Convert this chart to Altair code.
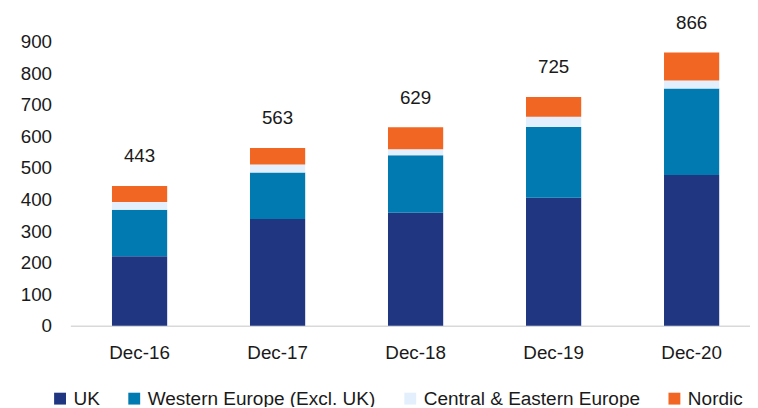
import altair as alt
import pandas as pd

periods = ["Dec-16", "Dec-17", "Dec-18", "Dec-19", "Dec-20"]
regions = ["UK", "Western Europe (Excl. UK)", "Central & Eastern Europe", "Nordic"]
colors = ["#203680", "#007AB0", "#E3EFFC", "#F16622"]

uk = [220, 338, 358, 406, 478]
western = [148, 148, 182, 224, 274]
central_eastern = [24, 25, 19, 32, 25]
nordic = [51, 52, 70, 63, 89]
totals = [443, 563, 629, 725, 866]
y_ticks = [0, 100, 200, 300, 400, 500, 600, 700, 800, 900]

series = [uk, western, central_eastern, nordic]
rows = []
for ri, (name, vals) in enumerate(zip(regions, series)):
    for p, v in zip(periods, vals):
        rows.append({"period": p, "region": name, "value": v, "order": ri})
df = pd.DataFrame(rows)
tot = pd.DataFrame({"period": periods, "total": totals})

FONT = "Liberation Sans"
FS = 19

xscale = alt.Scale(paddingInner=0.6, paddingOuter=0.2624, align=0.575)
yscale = alt.Scale(domain=[0, 900], nice=False)

xaxis = alt.Axis(title=None, labelAngle=0, ticks=False, domainColor="#D9D9D9",
                 domainWidth=1.5, labelPadding=18, labelFontSize=FS, labelFont=FONT,
                 labelColor="#1a1a1a")
yaxis = alt.Axis(title=None, values=y_ticks, grid=False, ticks=False,
                 domain=False, labelPadding=19, labelFontSize=FS, labelFont=FONT,
                 labelColor="#1a1a1a", labelOverlap=False)

bars = alt.Chart(df).mark_bar().encode(
    x=alt.X("period:N", sort=periods, scale=xscale, axis=xaxis),
    y=alt.Y("value:Q", stack="zero", scale=yscale, axis=yaxis),
    color=alt.Color("region:N", sort=regions, scale=alt.Scale(domain=regions, range=colors),
                    legend=alt.Legend(title=None, orient="none", direction="horizontal",
                                      legendX=-20, legendY=351, symbolType="square",
                                      symbolSize=144, symbolStrokeWidth=0, labelFontSize=19.2,
                                      labelFont=FONT, labelColor="#1a1a1a", labelOffset=4,
                                      columnPadding=25, labelLimit=400)),
    order=alt.Order("order:Q", sort="ascending"),
)

labels = alt.Chart(tot).mark_text(font=FONT, fontSize=FS, color="#1a1a1a", baseline="middle", dy=-30).encode(
    x=alt.X("period:N", sort=periods, scale=xscale, axis=xaxis),
    y=alt.Y("total:Q", scale=yscale, axis=yaxis),
    text=alt.Text("total:Q"),
)

chart = alt.layer(bars, labels).properties(
    width=687, height=287,
    autosize=alt.AutoSizeParams(type="none"),
    padding={"left": 63, "top": 32, "right": 0, "bottom": 80},
).configure_view(stroke=None)

chart.save("out.html", embed_options={"renderer": "svg", "actions": False})
